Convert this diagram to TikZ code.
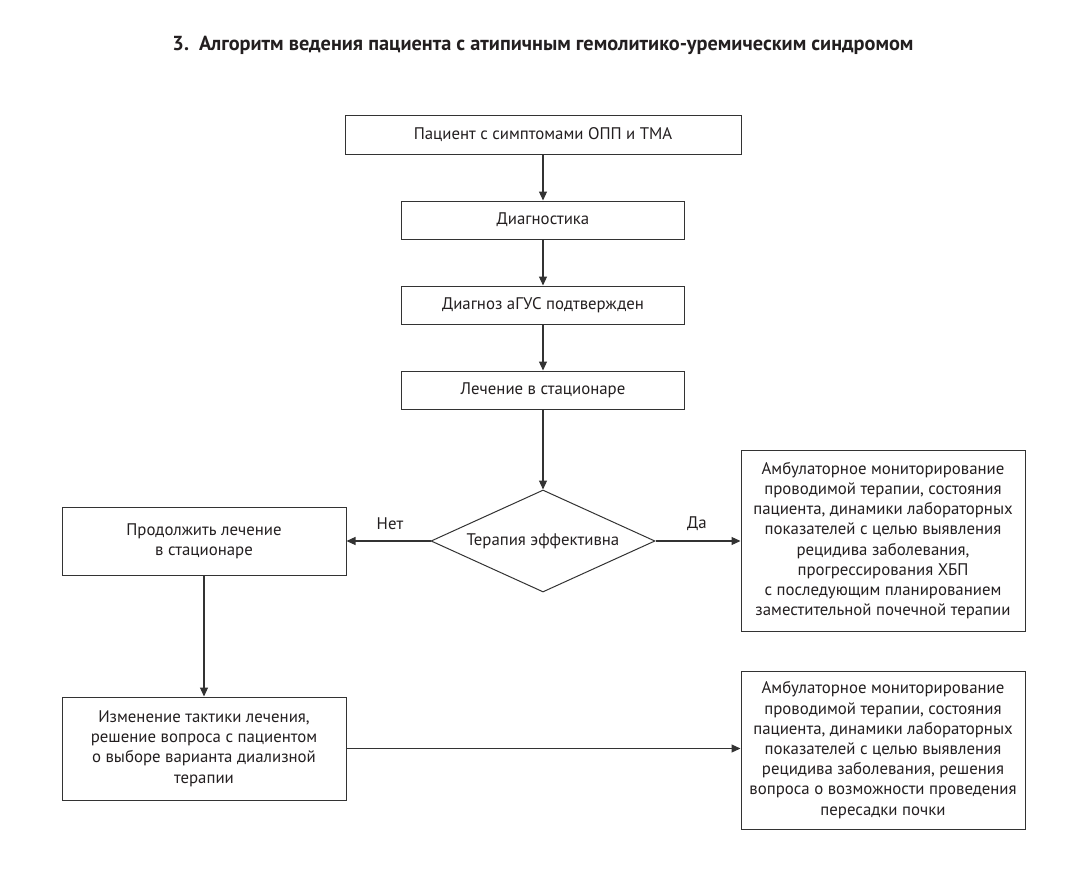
\documentclass[tikz,border=0pt]{standalone}
\usepackage{fontspec}
\setmainfont{PT Sans}
\usetikzlibrary{arrows.meta,shapes.geometric}
\definecolor{ln}{HTML}{333333}
\definecolor{tx}{HTML}{231F20}
\tikzset{
  box/.style={draw=ln, line width=1pt, rectangle, inner sep=0pt, align=center, text=tx, font=\fontsize{16.8}{20.2}\selectfont},
  dec/.style={draw=ln, line width=1pt, diamond, inner sep=0pt, aspect=2.2, minimum width=224pt, minimum height=102pt, text=tx, font=\fontsize{16.8}{20.2}\selectfont},
  conn/.style={draw=ln, line width=1.1pt, -{Triangle[length=9pt,width=8pt]}},
  lbl/.style={text=tx, font=\fontsize{16.8}{19}\selectfont, inner sep=0pt},
}
\begin{document}
\begin{tikzpicture}[x=1pt,y=-1pt]
\path[fill=white] (0,0) rectangle (1073,872);
\useasboundingbox (0,0) rectangle (1073,872);
\node[text=tx, font=\fontsize{20.3}{24}\selectfont\bfseries, inner sep=0pt] (title) at (543,45) {3.\enspace Алгоритм ведения пациента с атипичным гемолитико-уремическим синдромом};
\node[box, minimum width=396pt, minimum height=38pt] (b1) at (543,135) {Пациент с симптомами ОПП и ТМА};
\node[box, minimum width=283pt, minimum height=38pt] (b2) at (543,220) {Диагностика};
\node[box, minimum width=283pt, minimum height=38pt] (b3) at (543,305) {Диагноз аГУС подтвержден};
\node[box, minimum width=283pt, minimum height=38pt] (b4) at (543,390) {Лечение в стационаре};
\node[dec] (d) at (543,541) {Терапия эффективна};
\node[box, minimum width=284pt, minimum height=68pt] (l1) at (204,541) {Продолжить лечение\\в стационаре};
\node[box, minimum width=284pt, minimum height=181pt] (r1) at (883,540.5) {Амбулаторное мониторирование\\проводимой терапии, состояния\\пациента, динамики лабораторных\\показателей с целью выявления\\рецидива заболевания,\\прогрессирования ХБП\\с последующим планированием\\заместительной почечной терапии};
\node[box, minimum width=284pt, minimum height=103pt] (l2) at (204,748.5) {Изменение тактики лечения,\\решение вопроса с пациентом\\о выборе варианта диализной\\терапии};
\node[box, minimum width=284pt, minimum height=158pt] (r2) at (883,750) {Амбулаторное мониторирование\\проводимой терапии, состояния\\пациента, динамики лабораторных\\показателей с целью выявления\\рецидива заболевания, решения\\вопроса о возможности проведения\\пересадки почки};
\draw[conn] (b1) -- (b2);
\draw[conn] (b2) -- (b3);
\draw[conn] (b3) -- (b4);
\draw[conn] (b4) -- (d);
\draw[conn] (d.west) -- (l1.east);
\draw[conn] (d.east) -- (d.east -| r1.west);
\draw[conn] (l1.south) -- (l2.north);
\draw[conn] (l2.east) -- (l2.east -| r2.west);
\node[lbl] (no) at (390,524) {Нет};
\node[lbl] (yes) at (697,524) {Да};
\end{tikzpicture}
\end{document}
